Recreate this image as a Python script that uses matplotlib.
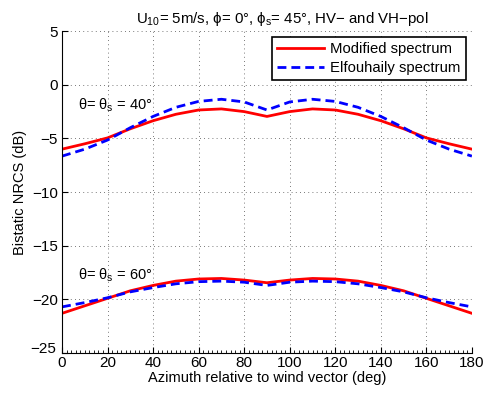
import matplotlib
matplotlib.use("Agg")
import matplotlib.pyplot as plt
import matplotlib.transforms as mtransforms
from matplotlib.ticker import MultipleLocator

plt.rcParams['font.family'] = ['Liberation Sans', 'DejaVu Sans']
plt.rcParams['mathtext.fontset'] = 'custom'
plt.rcParams['mathtext.rm'] = 'Liberation Sans'
plt.rcParams['mathtext.it'] = 'Liberation Sans'

azimuth = [0, 10, 20, 30, 40, 50, 60, 70, 80, 90, 100, 110, 120, 130, 140, 150, 160, 170, 180]

mod_40 = [-6.0, -5.5, -4.95, -4.1, -3.35, -2.75, -2.35, -2.25, -2.5, -2.95,
          -2.5, -2.25, -2.35, -2.75, -3.35, -4.1, -4.95, -5.5, -6.0]
elf_40 = [-6.65, -6.0, -5.15, -4.0, -2.95, -2.1, -1.55, -1.35, -1.6, -2.35,
          -1.6, -1.35, -1.55, -2.1, -2.95, -4.0, -5.15, -6.0, -6.65]
mod_60 = [-21.3, -20.6, -19.9, -19.2, -18.7, -18.3, -18.1, -18.05, -18.2, -18.45,
          -18.2, -18.05, -18.1, -18.3, -18.7, -19.2, -19.9, -20.6, -21.3]
elf_60 = [-20.7, -20.3, -19.85, -19.3, -18.9, -18.55, -18.35, -18.3, -18.4, -18.7,
          -18.4, -18.3, -18.35, -18.55, -18.9, -19.3, -19.85, -20.3, -20.7]

fig = plt.figure(figsize=(4.86, 3.94), dpi=100)
ax = fig.add_axes([0.1276, 0.104, 0.8434, 0.817])

l1, = ax.plot(azimuth, mod_40, color='red', lw=2, label='Modified spectrum')
l2, = ax.plot(azimuth, elf_40, color='blue', lw=2, ls=(0, (3.2, 1.8)), label='Elfouhaily spectrum')
ax.plot(azimuth, mod_60, color='red', lw=2)
ax.plot(azimuth, elf_60, color='blue', lw=2, ls=(0, (3.2, 1.8)))

ax.set_xlim(0, 180)
ax.set_ylim(-25, 5)
ax.set_xticks(range(0, 181, 20))
ax.set_yticks(range(-25, 6, 5))
ax.set_yticklabels(['\u221225', '\u221220', '\u221215', '\u221210', '\u22125', '0', '5'])
ax.xaxis.set_minor_locator(MultipleLocator(2))
ax.tick_params(axis='both', which='major', direction='in', length=4, labelsize=11, width=0.8)
ax.tick_params(axis='x', which='minor', direction='in', length=2, width=0.6)
ax.tick_params(axis='x', pad=2)
ax.tick_params(axis='y', pad=3)
for s in ['top', 'right']:
    ax.spines[s].set_visible(False)
ax.grid(True, which='major', color='black', ls=(0, (1, 4)), lw=0.6, alpha=0.7)

# raise the lowest y label like the reference
lab = ax.get_yticklabels()[0]
lab.set_transform(lab.get_transform() + mtransforms.ScaledTranslation(-2/100, 6/100, fig.dpi_scale_trans))

ax.set_xlabel('Azimuth relative to wind vector (deg)', fontsize=10.5, labelpad=1)
ax.set_ylabel('Bistatic NRCS (dB)', fontsize=10.5, labelpad=2)
ax.set_title(r'U$_{10}$= 5m/s, $\phi$= 0°, $\phi_{s}$= 45°, HV− and VH−pol', fontsize=10.8, pad=6, x=0.537)

ax.text(7, -2.3, r'$\theta$= $\theta_{s}$ = 40°', fontsize=10.5)
ax.text(7, -18.2, r'$\theta$= $\theta_{s}$ = 60°', fontsize=10.5)

leg = ax.legend(handles=[l1, l2], loc='upper right', fontsize=10.7, fancybox=False,
                edgecolor='black', framealpha=1, borderaxespad=0.4,
                handlelength=3.2, labelspacing=0.3, borderpad=0.35, handletextpad=0.4)
leg.get_frame().set_linewidth(1.2)

fig.savefig('out.png', dpi=100)
